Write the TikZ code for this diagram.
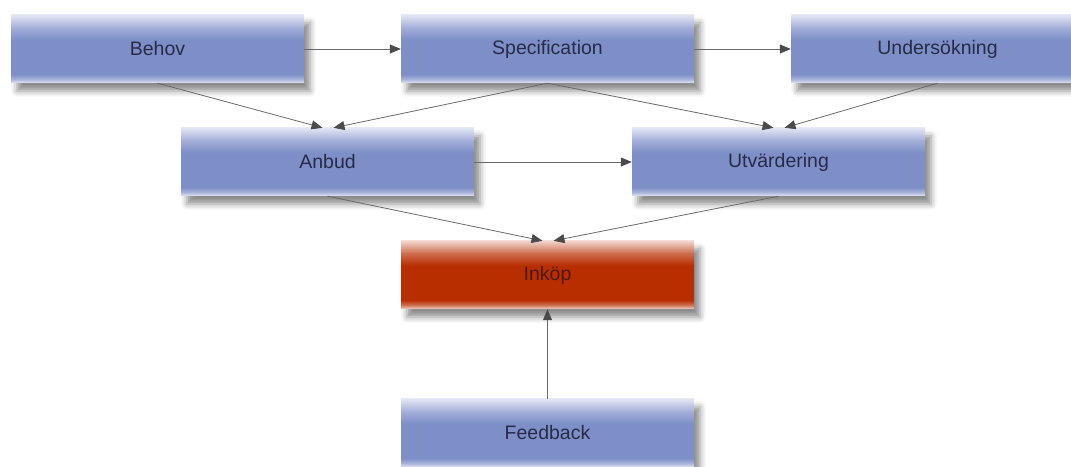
\documentclass[tikz,border=0pt]{standalone}
\usepackage{fontspec}
\setmainfont{Liberation Sans}
\usetikzlibrary{arrows.meta,shadows.blur,calc}
\definecolor{bluemid}{RGB}{126,143,200}
\definecolor{bluelight}{RGB}{226,229,243}
\definecolor{bluesoft}{RGB}{165,176,217}
\definecolor{redmid}{RGB}{184,46,0}
\definecolor{redlight}{RGB}{242,212,204}
\definecolor{redsoft}{RGB}{205,110,80}
\definecolor{bluetext}{RGB}{38,43,72}
\definecolor{redtext}{RGB}{78,26,14}
\definecolor{edgecol}{RGB}{105,105,105}
\definecolor{tipcol}{RGB}{75,75,75}
\pgfdeclareverticalshading{blueboxshade}{100bp}{%
  color(0bp)=(bluelight); color(25bp)=(bluelight); color(28bp)=(bluesoft);
  color(31.5bp)=(bluemid); color(57bp)=(bluemid); color(66bp)=(bluesoft);
  color(75bp)=(bluelight); color(100bp)=(bluelight)}
\pgfdeclareverticalshading{redboxshade}{100bp}{%
  color(0bp)=(redlight); color(25bp)=(redlight); color(28bp)=(redsoft);
  color(31.5bp)=(redmid); color(57bp)=(redmid); color(66bp)=(redsoft);
  color(75bp)=(redlight); color(100bp)=(redlight)}
\tikzset{
  box/.style={rectangle, minimum width=293pt, minimum height=68pt, inner sep=0pt,
    font=\fontsize{19.5}{23}\selectfont,
    blur shadow={shadow xshift=6pt, shadow yshift=-8pt, shadow blur radius=6pt, shadow opacity=45}},
  bluebox/.style={box, shading=blueboxshade, text=bluetext},
  redbox/.style={box, shading=redboxshade, text=redtext},
  conn/.style={draw=edgecol, line width=0.8pt, -{Triangle[length=11pt,width=9pt,fill=tipcol,color=tipcol]}}
}
\begin{document}
\begin{tikzpicture}[x=1pt,y=1pt]
\useasboundingbox (0,0) rectangle (1071,466);
\node[bluebox] (behov) at (157.5,417) {Behov};
\node[bluebox] (spec) at (547.5,417) {Specification};
\node[bluebox] (unders) at (937.5,417) {Undersökning};
\node[bluebox] (anbud) at (327.5,304) {Anbud};
\node[bluebox] (utv) at (778.5,304) {Utvärdering};
\node[redbox] (inkop) at (547.5,191) {Inköp};
\node[bluebox] (feed) at (547.5,33) {Feedback};
\draw[conn] (behov.east) -- (spec.west);
\draw[conn] (spec.east) -- (unders.west);
\draw[conn] (behov.south) -- ([xshift=-5pt]anbud.north);
\draw[conn] (spec.south) -- ([xshift=6pt]anbud.north);
\draw[conn] (spec.south) -- ([xshift=-5pt]utv.north);
\draw[conn] (unders.south) -- ([xshift=6pt]utv.north);
\draw[conn] (anbud.east) -- (utv.west);
\draw[conn] (anbud.south) -- ([xshift=-5pt]inkop.north);
\draw[conn] (utv.south) -- ([xshift=6pt]inkop.north);
\draw[conn] (feed.north) -- (inkop.south);
\end{tikzpicture}
\end{document}
